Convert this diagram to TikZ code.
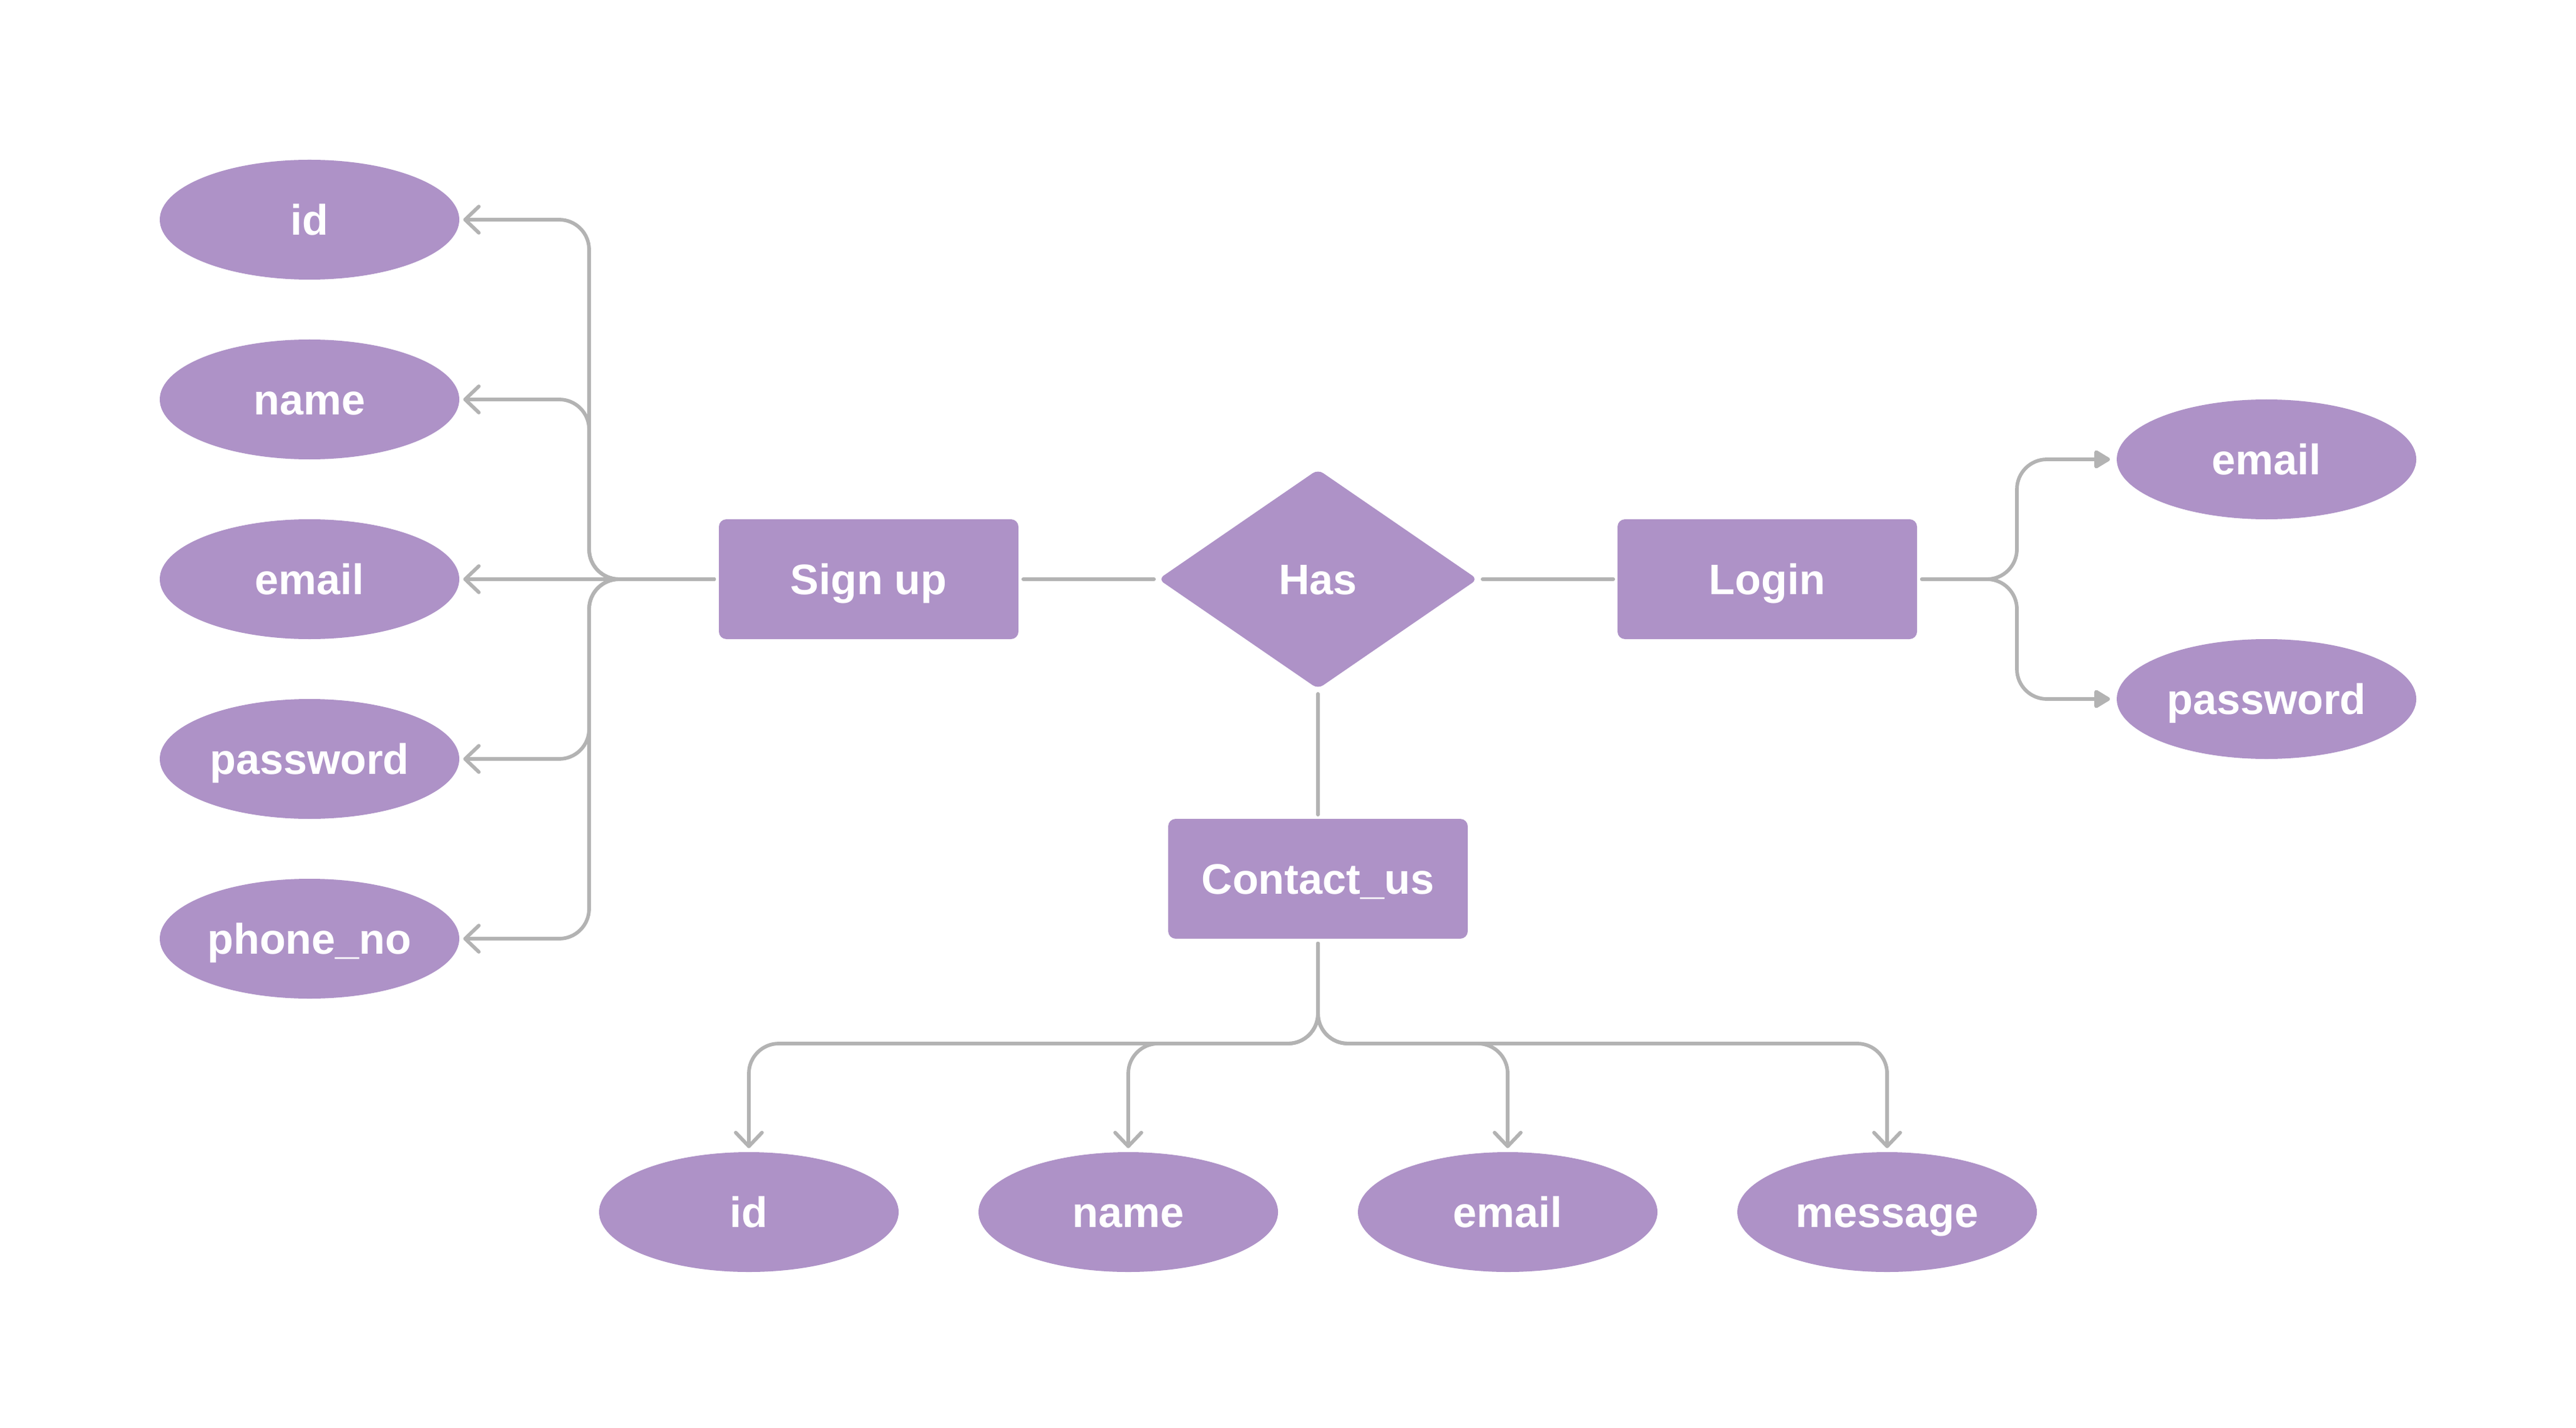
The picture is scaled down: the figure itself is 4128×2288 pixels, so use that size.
\documentclass[tikz,border=0pt]{standalone}
\usepackage{fontspec}
\setmainfont{Liberation Sans}
\usetikzlibrary{shapes.geometric,arrows.meta}
\definecolor{erfill}{HTML}{AE92C7}
\definecolor{erline}{HTML}{B3B3B3}
\begin{document}
\begin{tikzpicture}[x=0.25pt,y=-0.25pt,
  lbl/.style={text=white,font=\fontsize{17.1pt}{20pt}\selectfont\bfseries,text height=12.2pt,text depth=0pt,inner sep=0pt},
  ent/.style={lbl,rectangle,fill=erfill,rounded corners=3pt,minimum width=120pt,minimum height=48pt},
  attr/.style={lbl,ellipse,fill=erfill,minimum width=120pt,minimum height=48pt},
  rel/.style={lbl,diamond,fill=erfill,rounded corners=2.5pt,minimum width=128pt,minimum height=88pt},
  conn/.style={draw=erline,line width=1.45pt,line cap=round,rounded corners=12pt},
  openarr/.style={conn,-{Straight Barb[length=5.5pt,width=10.5pt,round]},shorten <=1.75pt,shorten >=1.4pt},
  fillarr/.style={conn,-{Triangle[length=7pt,width=8pt,round]},shorten <=1.75pt,shorten >=2.5pt},
  plainln/.style={conn,shorten <=1.75pt,shorten >=1.5pt}]
\useasboundingbox[fill=white] (0,0) rectangle (4128,2288);
% entities and relation
\node[ent] (su) at (1392,928) {Sign up};
\node[rel] (has) at (2112,928) {Has};
\node[ent] (lg) at (2832,928) {Login};
\node[ent] (cu) at (2112,1408) {Contact\_us};
% Sign up attributes
\node[attr] (l1) at (496,352) {id};
\node[attr] (l2) at (496,640) {name};
\node[attr] (l3) at (496,928) {email};
\node[attr] (l4) at (496,1216) {password};
\node[attr] (l5) at (496,1504) {phone\_no};
% Login attributes
\node[attr] (r1) at (3632,736) {email};
\node[attr] (r2) at (3632,1120) {password};
% Contact_us attributes
\node[attr] (b1) at (1200,1942) {id};
\node[attr] (b2) at (1808,1942) {name};
\node[attr] (b3) at (2416,1942) {email};
\node[attr] (b4) at (3024,1942) {message};
% bus points
\coordinate (busL) at (944,928);
\coordinate (busR) at (3232,928);
\coordinate (busB) at (2112,1672);
% relation lines
\draw[plainln] (su.east) -- (has.west);
\draw[plainln] (has.east) -- (lg.west);
\draw[plainln] (has.south) -- (cu.north);
% Sign up branches
\draw[openarr] (su.west) -- (busL) |- (l1.east);
\draw[openarr] (su.west) -- (busL) |- (l2.east);
\draw[openarr] (su.west) -- (l3.east);
\draw[openarr] (su.west) -- (busL) |- (l4.east);
\draw[openarr] (su.west) -- (busL) |- (l5.east);
% Login branches
\draw[fillarr] (lg.east) -- (busR) |- (r1.west);
\draw[fillarr] (lg.east) -- (busR) |- (r2.west);
% Contact_us branches
\draw[openarr] (cu.south) -- (busB) -| (b1.north);
\draw[openarr] (cu.south) -- (busB) -| (b2.north);
\draw[openarr] (cu.south) -- (busB) -| (b3.north);
\draw[openarr] (cu.south) -- (busB) -| (b4.north);
\end{tikzpicture}
\end{document}
